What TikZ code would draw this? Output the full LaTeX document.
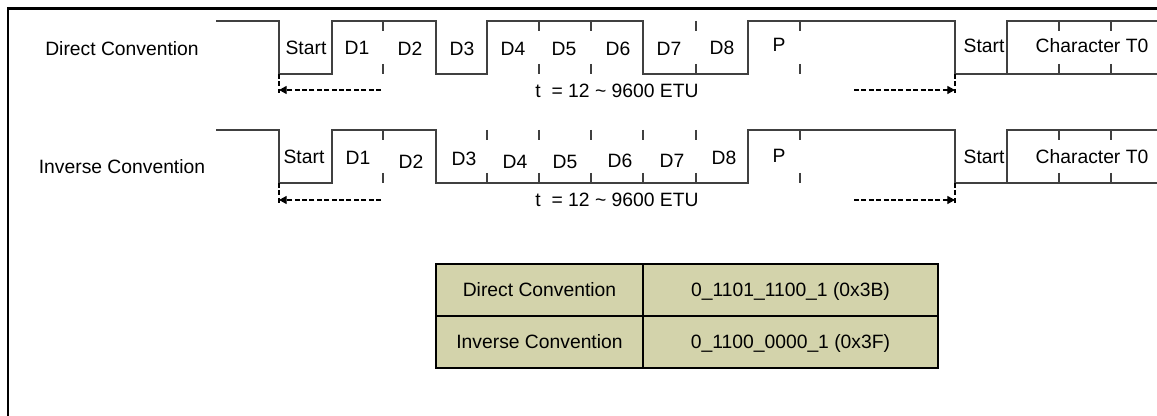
\documentclass[tikz,border=0pt]{standalone}
\usepackage{fontspec}
\setmainfont{Liberation Sans}
\usetikzlibrary{arrows.meta}
\definecolor{cellfill}{RGB}{211,211,171}
\begin{document}
\begin{tikzpicture}[x=0.5pt,y=-0.5pt,
  wave/.style={draw=black!75,line width=0.55pt},
  lbl/.style={inner sep=0pt,text height=6.9pt,text depth=0pt,font=\fontsize{9.65}{11.6}\selectfont},
  dimline/.style={draw=black,line width=0.55pt,dash pattern=on 2.5pt off 1.2pt},
  cell/.style={lbl,draw=black,line width=0.6pt,fill=cellfill,minimum height=26pt}]
\useasboundingbox (0,0) rectangle (1157,416);
% frame
\draw[line width=1.1pt] (8,416) -- (8,8.5) -- (1157,8.5);

% direct convention
\node[lbl] (dc) at (122,49) {Direct Convention};
\draw[wave] (216,21) -- (279,21) -- (279,74) -- (332,74) -- (332,21) -- (436,21) -- (436,74)
  -- (487,74) -- (487,21) -- (643,21) -- (643,74) -- (748,74) -- (748,21) -- (955,21)
  -- (955,74) -- (1157,74);
\draw[wave] (1007,74) -- (1007,21) -- (1157,21);
\draw[wave] (383,21) -- (383,31) (383,64) -- (383,74)
  (539,21) -- (539,31) (539,64) -- (539,74)
  (591,21) -- (591,31) (591,64) -- (591,74)
  (696,21) -- (696,31) (696,64) -- (696,74)
  (800,21) -- (800,31) (800,64) -- (800,74)
  (1059,21) -- (1059,31) (1059,64) -- (1059,74)
  (1111,21) -- (1111,31) (1111,64) -- (1111,74);
\node[lbl] (dstart) at (306,48) {Start};
\node[lbl] (dd1) at (357,48) {D1};
\node[lbl] (dd2) at (410,49) {D2};
\node[lbl] (dd3) at (462,49) {D3};
\node[lbl] (dd4) at (513,49) {D4};
\node[lbl] (dd5) at (564,49) {D5};
\node[lbl] (dd6) at (618,49) {D6};
\node[lbl] (dd7) at (669,49) {D7};
\node[lbl] (dd8) at (722,48) {D8};
\node[lbl] (dp) at (779,45) {P};
\node[lbl] (dnext) at (984,46) {Start};
\node[lbl] (dchar) at (1092,46) {Character T0};
\coordinate (dl) at (279,90);
\coordinate (dr) at (955,90);
\coordinate (dla) at (381,90);
\coordinate (dra) at (854,90);
\draw[dimline] (279,74) -- (279,93) (955,74) -- (955,93);
\draw[dimline,-{Triangle[length=3.8pt,width=4pt]}] (dla) -- (dl);
\draw[dimline,-{Triangle[length=3.8pt,width=4pt]}] (dra) -- (dr);
\node[lbl] (dt) at (617,91) {t\ \ = 12 \textasciitilde\ 9600 ETU};

% inverse convention
\node[lbl] (ic) at (122,167) {Inverse Convention};
\draw[wave] (216,130) -- (279,130) -- (279,183) -- (332,183) -- (332,130) -- (436,130)
  -- (436,183) -- (748,183) -- (748,130) -- (955,130) -- (955,183) -- (1157,183);
\draw[wave] (1007,183) -- (1007,130) -- (1157,130);
\draw[wave] (383,130) -- (383,140) (383,173) -- (383,183)
  (487,130) -- (487,140) (487,173) -- (487,183)
  (539,130) -- (539,140) (539,173) -- (539,183)
  (591,130) -- (591,140) (591,173) -- (591,183)
  (643,130) -- (643,140) (643,173) -- (643,183)
  (696,130) -- (696,140) (696,173) -- (696,183)
  (800,130) -- (800,140) (800,173) -- (800,183)
  (1059,130) -- (1059,140) (1059,173) -- (1059,183)
  (1111,130) -- (1111,140) (1111,173) -- (1111,183);
\node[lbl] (istart) at (304,157) {Start};
\node[lbl] (id1) at (358,158) {D1};
\node[lbl] (id2) at (411,162) {D2};
\node[lbl] (id3) at (464,159) {D3};
\node[lbl] (id4) at (515,162) {D4};
\node[lbl] (id5) at (565,162) {D5};
\node[lbl] (id6) at (620,161) {D6};
\node[lbl] (id7) at (672,161) {D7};
\node[lbl] (id8) at (724,158) {D8};
\node[lbl] (ip) at (779,156) {P};
\node[lbl] (inext) at (984,157) {Start};
\node[lbl] (ichar) at (1092,157) {Character T0};
\coordinate (il) at (279,200);
\coordinate (ir) at (955,200);
\coordinate (ila) at (381,200);
\coordinate (ira) at (854,200);
\draw[dimline] (279,183) -- (279,203) (955,183) -- (955,203);
\draw[dimline,-{Triangle[length=3.8pt,width=4pt]}] (ila) -- (il);
\draw[dimline,-{Triangle[length=3.8pt,width=4pt]}] (ira) -- (ir);
\node[lbl] (it) at (617,200) {t\ \ = 12 \textasciitilde\ 9600 ETU};

% table
\node[cell,minimum width=103.5pt] (c11) at (539.5,290) {Direct Convention};
\node[cell,minimum width=147.5pt] (c12) at (790.5,290) {0\_1101\_1100\_1 (0x3B)};
\node[cell,minimum width=103.5pt] (c21) at (539.5,342) {Inverse Convention};
\node[cell,minimum width=147.5pt] (c22) at (790.5,342) {0\_1100\_0000\_1 (0x3F)};
\end{tikzpicture}
\end{document}
